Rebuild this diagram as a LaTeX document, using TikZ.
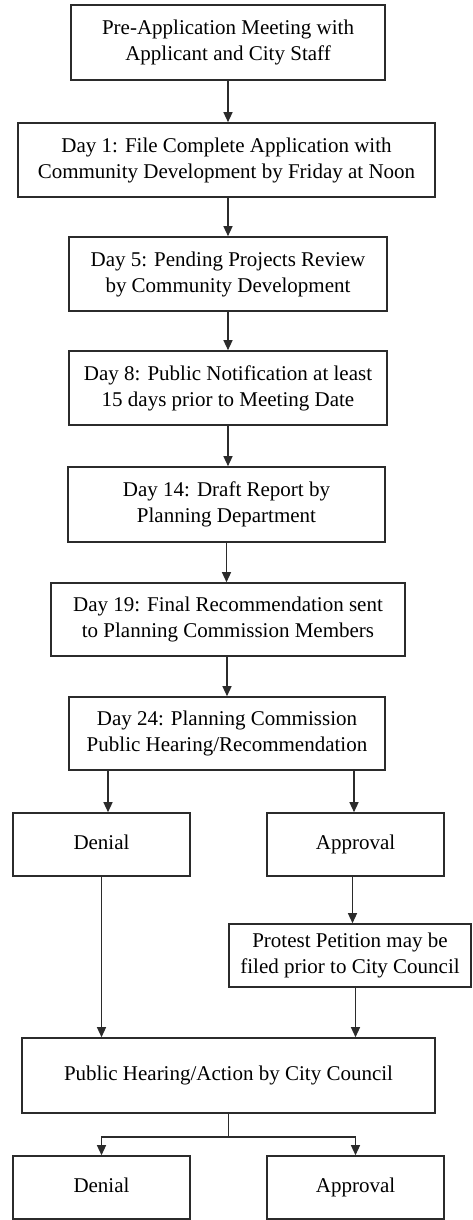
\documentclass[tikz,border=0pt]{standalone}
\usepackage{fontspec}
\setmainfont{Liberation Serif}
\usepackage{tikz}
\usetikzlibrary{arrows.meta,positioning,calc}
\definecolor{flowline}{HTML}{2B2B2B}

\begin{document}
\begin{tikzpicture}[x=1pt,y=-1pt,
  stepbox/.style={draw=flowline,line width=1.6pt,align=center,inner sep=2pt,
    font=\fontsize{21}{26}\selectfont},
  outcome/.style={stepbox,minimum width=177pt,minimum height=63pt,
    text height=14pt,text depth=5pt},
  arr/.style={flowline,line width=1.3pt,-{Triangle[length=10pt,width=9pt]}},
  link/.style={flowline,line width=1.3pt}]
\useasboundingbox (0,0) rectangle (472,1220);
% main chain
\node[stepbox,minimum width=314pt,minimum height=75pt] (pre) at (228,42.5)
  {Pre-Application Meeting with\\Applicant and City Staff};
\node[stepbox,minimum width=417pt,minimum height=74pt] (dayone) at (226.5,160)
  {Day 1: File Complete Application with\\Community Development by Friday at Noon};
\node[stepbox,minimum width=318pt,minimum height=74pt] (dayfive) at (228,274)
  {Day 5: Pending Projects Review\\by Community Development};
\node[stepbox,minimum width=318pt,minimum height=74pt] (dayeight) at (228,388)
  {Day 8: Public Notification at least\\15 days prior to Meeting Date};
\node[stepbox,minimum width=317pt,minimum height=75pt] (dayfourteen) at (226.5,504.5)
  {Day 14: Draft Report by\\Planning Department};
\node[stepbox,minimum width=354pt,minimum height=73pt] (daynineteen) at (228,619.5)
  {Day 19: Final Recommendation sent\\to Planning Commission Members};
\node[stepbox,minimum width=316pt,minimum height=73pt] (daytwentyfour) at (227,733.5)
  {Day 24: Planning Commission\\Public Hearing/Recommendation};
% commission outcome
\node[outcome] (pcdenial) at (101.5,844.5) {Denial};
\node[outcome] (pcapproval) at (355.5,844.5) {Approval};
\node[stepbox,minimum width=242pt,minimum height=63pt] (protest) at (350,955.5)
  {Protest Petition may be\\filed prior to City Council};
% council
\node[stepbox,minimum width=413pt,minimum height=75pt] (council) at (228.5,1075.5)
  {Public Hearing/Action by City Council};
\node[outcome] (ccdenial) at (101.5,1187.5) {Denial};
\node[outcome] (ccapproval) at (355.5,1187.5) {Approval};
\coordinate (split) at (228.5,1137);

\draw[arr] (pre.south) -- (pre.south |- dayone.north);
\draw[arr] (dayone.south -| pre) -- (dayfive);
\draw[arr] (dayfive) -- (dayeight);
\draw[arr] (dayeight.south) -- (dayfourteen.north -| dayeight);
\draw[arr] (dayfourteen) -- (daynineteen.north -| dayfourteen);
\draw[arr] (daynineteen.south -| daytwentyfour) -- (daytwentyfour);
\draw[arr] ([xshift=-119pt]daytwentyfour.south) -- ([xshift=-119pt]daytwentyfour.south |- pcdenial.north);
\draw[arr] ([xshift=127pt]daytwentyfour.south) -- ([xshift=127pt]daytwentyfour.south |- pcapproval.north);
\draw[arr] ([xshift=-3pt]pcapproval.south) -- ([xshift=-3pt]pcapproval.south |- protest.north);
\draw[arr] (pcdenial.south) -- (pcdenial.south |- council.north);
\draw[arr] (protest.south -| pcapproval) -- (pcapproval |- council.north);
\draw[link] (council.south) -- (split);
\draw[arr] (split) -| (ccdenial.north);
\draw[arr] (split) -| (ccapproval.north);
\end{tikzpicture}
\end{document}
